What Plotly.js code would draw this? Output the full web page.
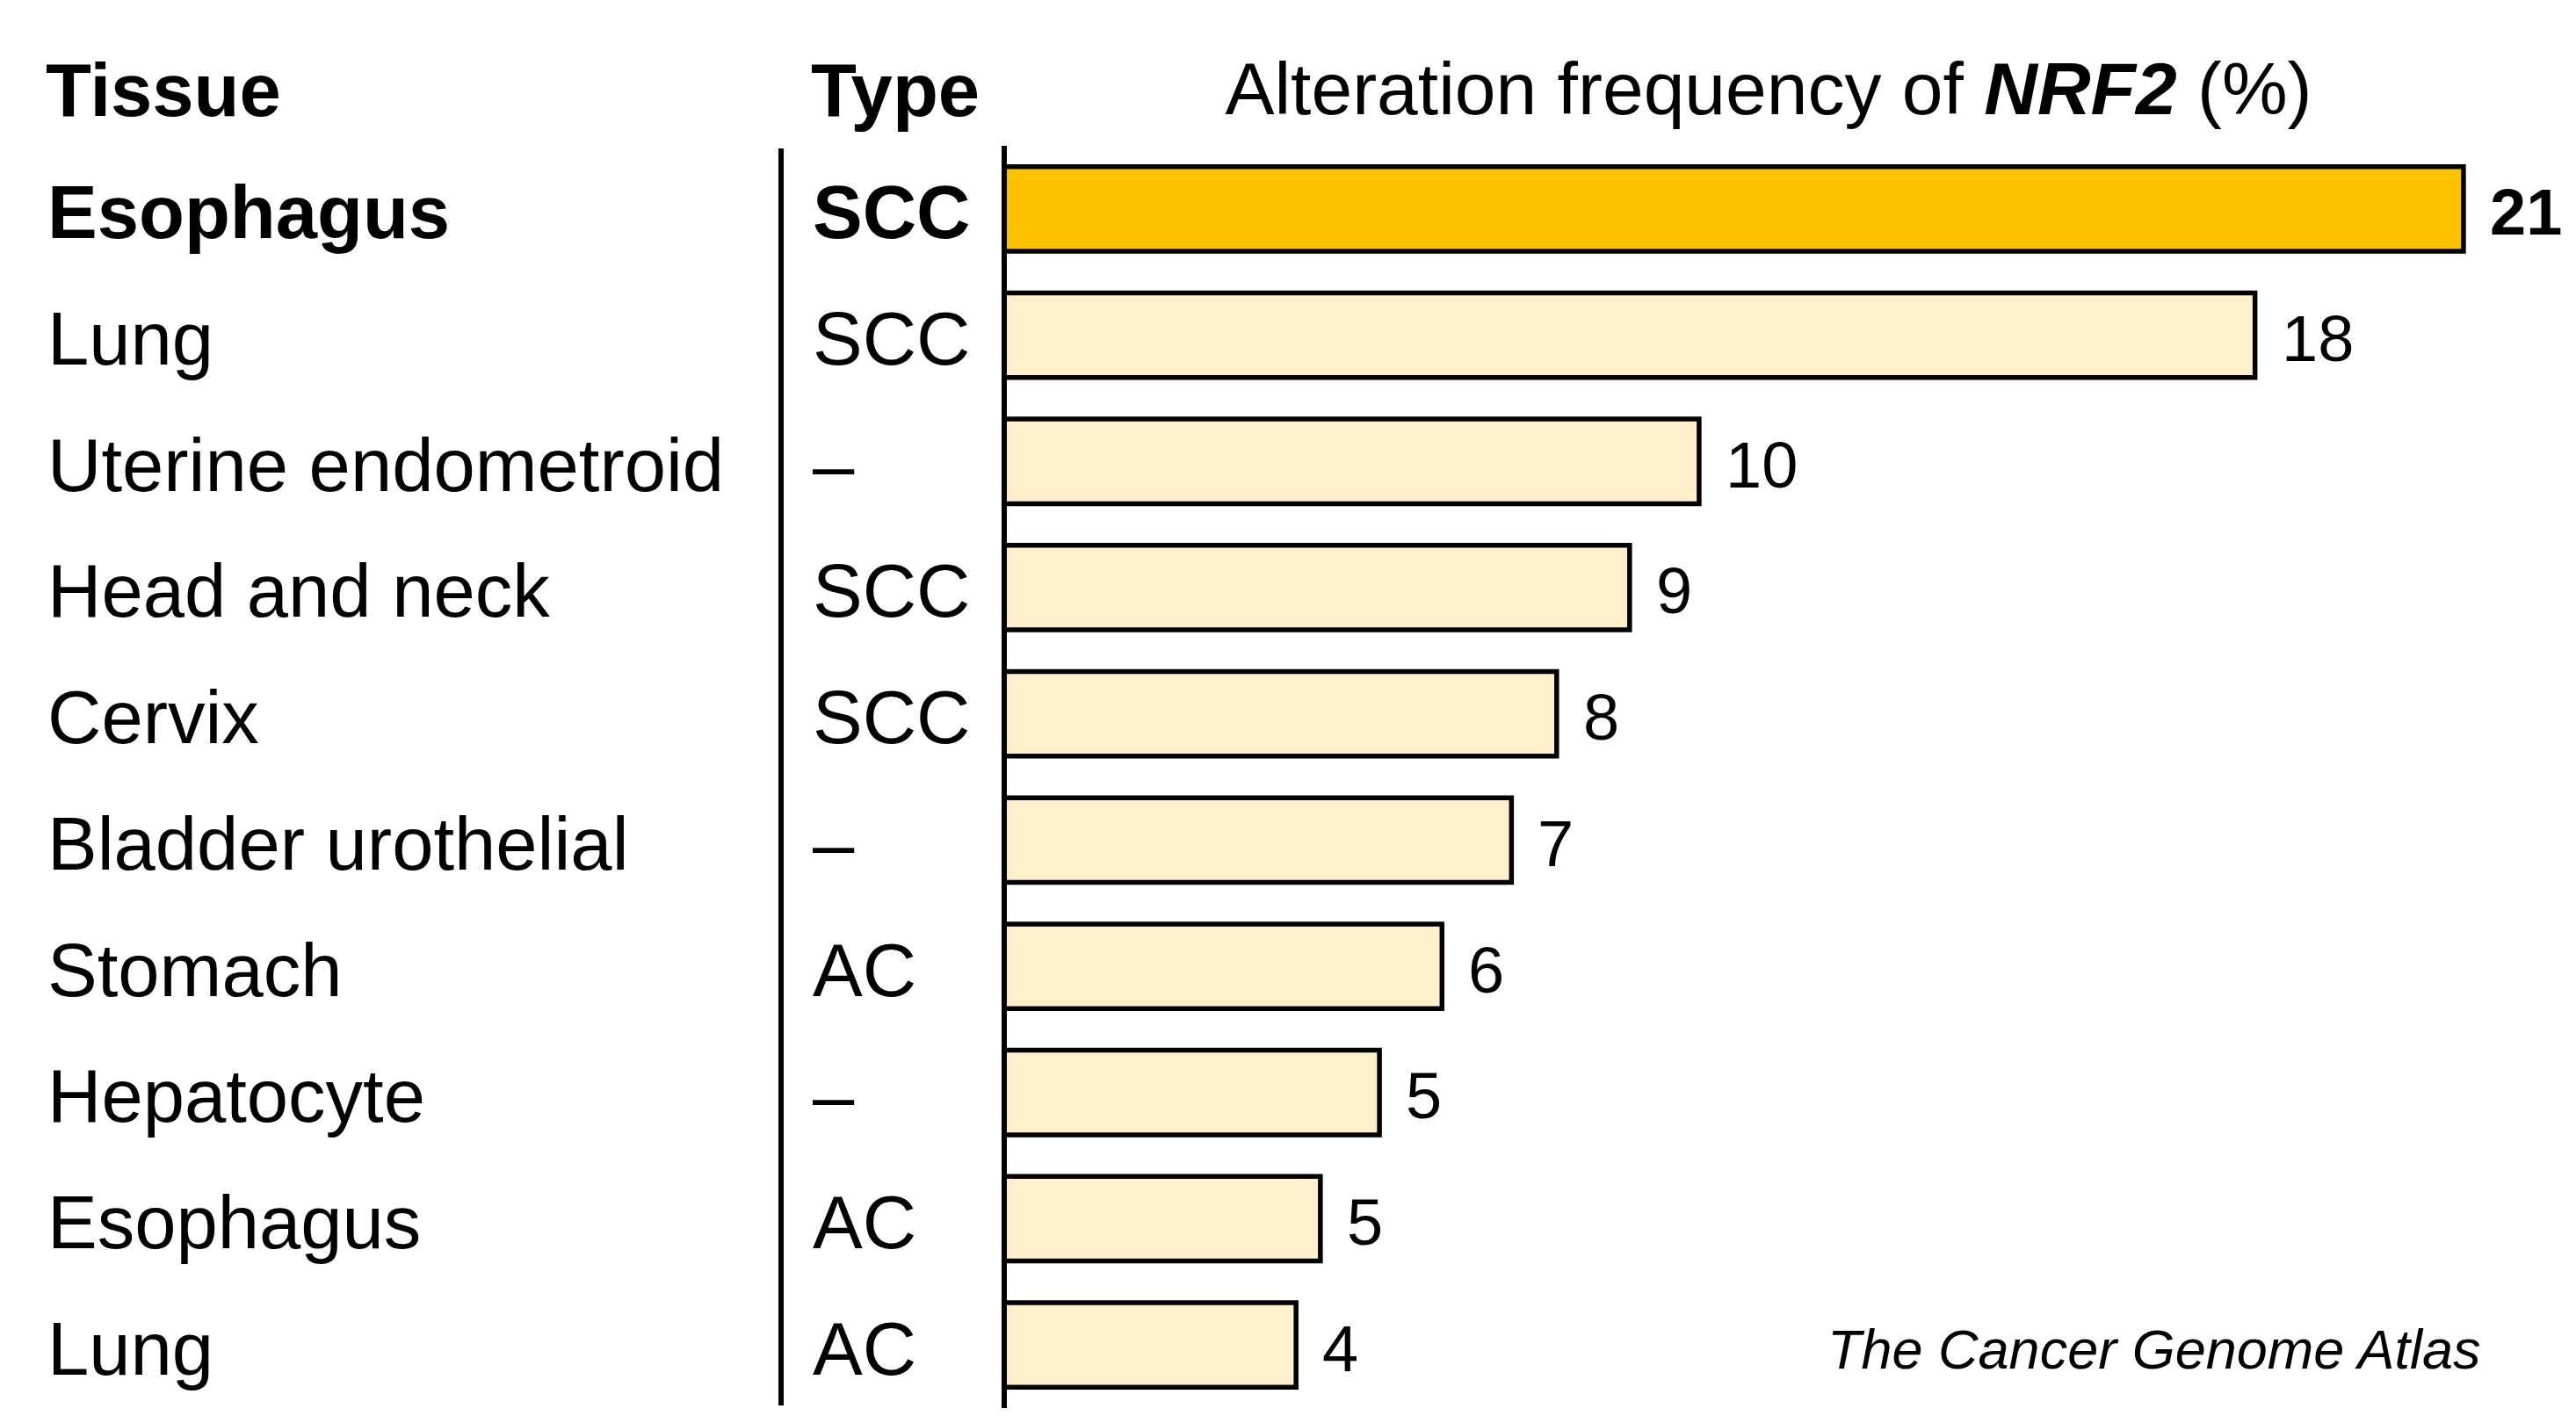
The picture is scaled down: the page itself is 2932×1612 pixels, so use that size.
<!DOCTYPE html>
<html>
<head>
<meta charset="utf-8">
<script src="https://cdn.plot.ly/plotly-3.0.1.min.js"></script>
<style>
  html, body { margin: 0; padding: 0; background: #ffffff; }
  #chart { width: 2932px; height: 1612px; }
</style>
</head>
<body>
<div id="chart"></div>
<script>
// ---- data ----
const tissues = ['Esophagus', 'Lung', 'Uterine endometroid', 'Head and neck', 'Cervix',
                 'Bladder urothelial', 'Stomach', 'Hepatocyte', 'Esophagus', 'Lung'];
const types = ['SCC', 'SCC', '\u2013', 'SCC', 'SCC', '\u2013', 'AC', '\u2013', 'AC', 'AC'];
const frequencies = [21, 18, 10, 9, 7.95, 7.3, 6.3, 5.4, 4.55, 4.2];
const valueLabels = ['21', '18', '10', '9', '8', '7', '6', '5', '5', '4'];
const highlighted = [true, false, false, false, false, false, false, false, false, false];
const headerTissue = 'Tissue';
const headerType = 'Type';
const chartTitle = 'Alteration frequency of <b><i>NRF2</i></b> (%)';
const sourceNote = '<i>The Cancer Genome Atlas</i>';

// ---- layout geometry ----
const W = 2932, H = 1612;
const M = { l: 1143, r: 49, t: 166, b: 9 };
const plotW = W - M.l - M.r;
const plotH = H - M.t - M.b;
const px2x = px => (px - M.l) / plotW;          // pixel x -> paper x
const px2y = py => (H - M.b - py) / plotH;       // pixel y -> paper y

const FONT = '"Liberation Sans", Arial, Helvetica, sans-serif';
const rowIdx = tissues.map((_, i) => i);

const barColors = highlighted.map(h => h ? '#FFC200' : '#FFF0CB');

const trace = {
  type: 'bar',
  orientation: 'h',
  x: frequencies,
  y: rowIdx,
  width: 0.67,
  marker: { color: barColors, line: { color: '#000000', width: 5.5 } },
  hoverinfo: 'skip',
  cliponaxis: false
};

const annotations = [];
// tissue and type labels
tissues.forEach((t, i) => {
  annotations.push({
    xref: 'paper', yref: 'y', x: px2x(52), y: i, xanchor: 'left', yanchor: 'middle', yshift: -4,
    text: highlighted[i] ? '<b>' + t + '</b>' : t, showarrow: false,
    font: { family: FONT, size: 85, color: '#000' }
  });
  annotations.push({
    xref: 'paper', yref: 'y', x: px2x(923), y: i, xanchor: 'left', yanchor: 'middle', yshift: -4,
    text: highlighted[i] ? '<b>' + types[i] + '</b>' : types[i], showarrow: false,
    font: { family: FONT, size: 85, color: '#000' }
  });
  annotations.push({
    xref: 'x', yref: 'y', x: frequencies[i], y: i, xanchor: 'left', yanchor: 'middle',
    xshift: 28, yshift: -4,
    text: highlighted[i] ? '<b>' + valueLabels[i] + '</b>' : valueLabels[i], showarrow: false,
    font: { family: FONT, size: 74, color: '#000' }
  });
});
// headers
annotations.push({
  xref: 'paper', yref: 'paper', x: px2x(50), y: px2y(102), xanchor: 'left', yanchor: 'middle',
  text: '<b>' + headerTissue + '</b>', showarrow: false,
  font: { family: FONT, size: 85, color: '#000' }
});
annotations.push({
  xref: 'paper', yref: 'paper', x: px2x(921), y: px2y(102), xanchor: 'left', yanchor: 'middle',
  text: '<b>' + headerType + '</b>', showarrow: false,
  font: { family: FONT, size: 85, color: '#000' }
});
// source note
annotations.push({
  xref: 'paper', yref: 'paper', x: px2x(2826), y: px2y(1536), xanchor: 'right', yanchor: 'middle',
  text: sourceNote, showarrow: false,
  font: { family: FONT, size: 63, color: '#000' }
});

const layout = {
  width: W, height: H,
  margin: M,
  paper_bgcolor: '#ffffff',
  plot_bgcolor: '#ffffff',
  showlegend: false,
  title: {
    text: chartTitle,
    x: 0.5, xref: 'paper', xanchor: 'center',
    y: 1 - 101 / H, yref: 'container', yanchor: 'middle',
    font: { family: FONT, size: 84, color: '#000' }
  },
  xaxis: {
    range: [0, 22], showgrid: false, zeroline: false, showline: false,
    showticklabels: false, ticks: '', fixedrange: true
  },
  yaxis: {
    range: [9.5, -0.5], showgrid: false, zeroline: false, showline: false,
    showticklabels: false, ticks: '', fixedrange: true
  },
  shapes: [
    { type: 'line', xref: 'paper', yref: 'paper', x0: 0, x1: 0, y0: 0, y1: 1,
      line: { color: '#000', width: 6 }, layer: 'above' },
    { type: 'line', xref: 'paper', yref: 'paper', x0: px2x(889), x1: px2x(889),
      y0: px2y(1600), y1: px2y(169), line: { color: '#000', width: 6 }, layer: 'above' }
  ],
  annotations: annotations,
  font: { family: FONT, color: '#000' }
};

Plotly.newPlot('chart', [trace], layout, { displayModeBar: false, staticPlot: true });
</script>
</body>
</html>
